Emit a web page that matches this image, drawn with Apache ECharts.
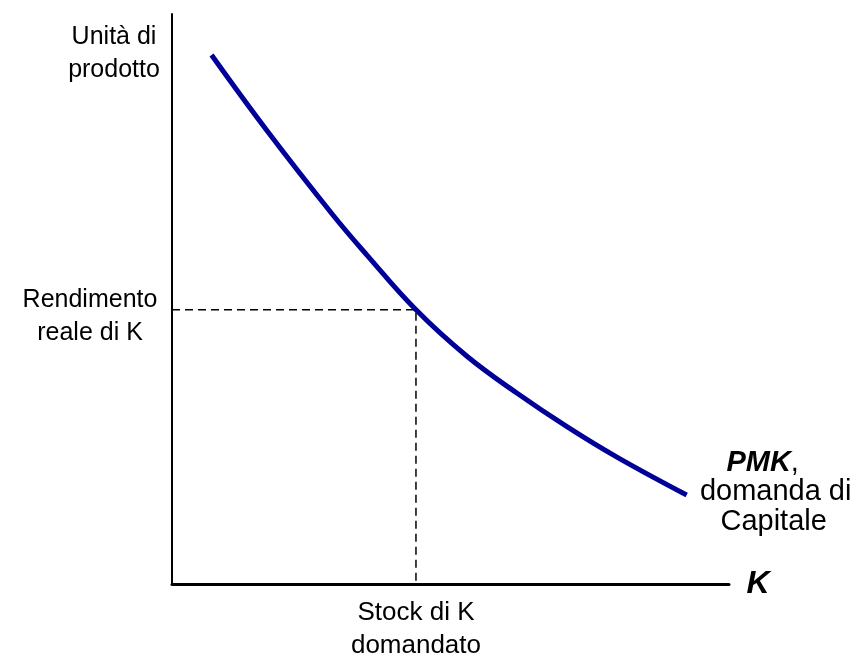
<!DOCTYPE html>
<html>
<head>
<meta charset="utf-8">
<script src="https://cdn.jsdelivr.net/npm/echarts@6/dist/echarts.min.js"></script>
<style>
html,body{margin:0;padding:0;background:#fff;}
#chart{width:855px;height:662px;}
</style>
</head>
<body>
<div id="chart"></div>
<script>
// Curve (PMK) data: capital stock K vs. units of product
const kValues = [7.1, 17.0, 29.0, 35.0, 43.8, 52.9, 61.9, 70.9, 79.8, 92.4];
const pmkValues = [92.8, 79.6, 64.6, 57.7, 48.1, 40.0, 33.5, 27.6, 22.3, 15.6];
// Equilibrium point
const eqK = 43.8;
const eqR = 48.1;
// Labels
const yAxisTitle = "Unità di\nprodotto";
const xAxisTitle = "K";
const eqRLabel = "Rendimento\nreale di K";
const eqKLabel = "Stock di K\ndomandato";
const curveLabelBold = "PMK";
const curveLabelLine2 = "domanda di";
const curveLabelLine3 = "Capitale";

const curveData = kValues.map((k, i) => [k, pmkValues[i]]);
const dashData = [[0, eqR], [eqK, eqR], [eqK, 0]];

const chart = echarts.init(document.getElementById('chart'));
const FONT = '"Liberation Sans", Arial, sans-serif';
chart.setOption({
  animation: false,
  grid: {left: 172, right: 126, top: 14, bottom: 78},
  xAxis: {
    type: 'value', min: 0, max: 100,
    axisLine: {show: true, onZero: false, lineStyle: {color: '#000', width: 3}},
    axisTick: {show: false}, axisLabel: {show: false}, splitLine: {show: false}
  },
  yAxis: {
    type: 'value', min: 0, max: 100,
    axisLine: {show: true, onZero: false, lineStyle: {color: '#000', width: 2}},
    axisTick: {show: false}, axisLabel: {show: false}, splitLine: {show: false}
  },
  series: [
    {
      type: 'line', data: dashData, symbol: 'none', silent: true,
      lineStyle: {color: '#000', width: 1.5, type: [8, 5]}
    },
    {
      type: 'line', data: curveData, symbol: 'none', smooth: 0.4, silent: true,
      lineStyle: {color: '#000099', width: 5, cap: 'butt'}
    }
  ]
});

function place() {
  const pEq = chart.convertToPixel({gridIndex: 0}, [eqK, eqR]);
  const pTop = chart.convertToPixel({gridIndex: 0}, [0, 100]);
  const pEnd = chart.convertToPixel({gridIndex: 0}, [100, 0]);
  const pCurveEnd = chart.convertToPixel({gridIndex: 0}, curveData[curveData.length - 1]);
  const base = {fill: '#000', fontFamily: FONT, fontSize: 25, lineHeight: 33, align: 'center', verticalAlign: 'middle'};
  chart.setOption({
    graphic: [
      {type: 'text', x: 114, y: pTop[1] + 40, style: Object.assign({}, base, {text: yAxisTitle})},
      {type: 'text', x: 90, y: pEq[1] + 7, style: Object.assign({}, base, {text: eqRLabel})},
      {type: 'text', x: pEq[0], y: pEnd[1] + 45, style: Object.assign({}, base, {text: eqKLabel, fontSize: 26})},
      {type: 'text', x: pEnd[0] + 29, y: pEnd[1], style: Object.assign({}, base, {text: xAxisTitle, fontSize: 32, fontWeight: 'bold', fontStyle: 'italic'})},
      {type: 'text', x: pCurveEnd[0] + 76, y: pCurveEnd[1] - 32, style: Object.assign({}, base, {
        text: '{b|' + curveLabelBold + '},', fontSize: 29,
        rich: {b: {fontFamily: FONT, fontSize: 29, fontWeight: 'bold', fontStyle: 'italic'}}
      })},
      {type: 'text', x: pCurveEnd[0] + 89, y: pCurveEnd[1] - 3, style: Object.assign({}, base, {text: curveLabelLine2, fontSize: 29})},
      {type: 'text', x: pCurveEnd[0] + 87, y: pCurveEnd[1] + 27, style: Object.assign({}, base, {text: curveLabelLine3, fontSize: 29})}
    ]
  });
}
place();
</script>
</body>
</html>
